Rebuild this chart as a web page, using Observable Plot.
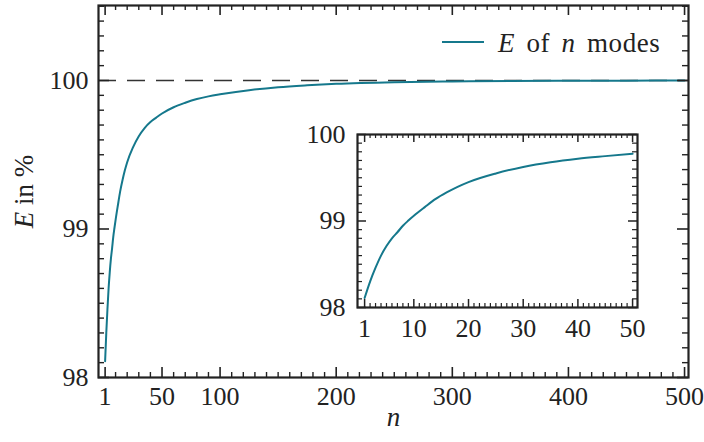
<!DOCTYPE html>
<html>
<head>
<meta charset="utf-8">
<script src="https://cdn.jsdelivr.net/npm/d3@7"></script>
<script src="https://cdn.jsdelivr.net/npm/@observablehq/plot@0.6"></script>
<style>
  body { margin: 0; background: #fff; }
  #wrap { position: relative; width: 704px; height: 442px; font-family: "Liberation Serif", serif; color: #222; }
  #wrap svg { position: absolute; }
  #legend { position: absolute; left: 442px; top: 28px; display: flex; align-items: center; font-size: 27px; line-height: 30px; white-space: nowrap; word-spacing: 4px; letter-spacing: 0.6px; }
  #legend .swatch { display: inline-block; width: 42px; height: 2px; margin-right: 14px; position: relative; top: -1px; }
</style>
</head>
<body>
<div id="wrap"></div>
<script>
// Retained energy E (in %) as a function of the number of modes n
const modes = [1, 2, 3, 4, 5, 6, 7, 8, 9, 10, 12, 14, 16, 18, 20, 25, 30, 35, 40, 45, 50,
  60, 70, 80, 90, 100, 125, 150, 175, 200, 250, 300, 350, 400, 450, 500];
const energy = [98.11, 98.30, 98.46, 98.60, 98.71, 98.80, 98.87, 98.945, 99.005, 99.06, 99.16,
  99.255, 99.33, 99.395, 99.45, 99.55, 99.625, 99.68, 99.72, 99.75, 99.778,
  99.82, 99.85, 99.875, 99.893, 99.907, 99.935, 99.955, 99.968, 99.978, 99.989, 99.994, 99.997, 99.998, 99.999, 100.0];

// Axis tick values
const mainXTicks = [1, 50, 100, 200, 300, 400, 500];
const mainYTicks = [98, 99, 100];
const insetXTicks = [1, 10, 20, 30, 40, 50];
const insetYTicks = [98, 99, 100];
const referenceLevel = [100];

const legendLabel = "E of n modes";
const yLabel = "E in %";
const xLabel = "n";

const teal = "#15788c";
const ink = "#222";

const data = modes.map((n, i) => ({n, E: energy[i]}));
const insetData = data.filter(d => d.n <= 50);

// inward tick helpers: ticks span the frame, insets shorten them to a given length
function xTicksIn(values, len, ph, sw) {
  return [
    Plot.tickX(values, {x: d => d, insetTop: ph - len, stroke: ink, strokeWidth: sw}),
    Plot.tickX(values, {x: d => d, insetBottom: ph - len, stroke: ink, strokeWidth: sw})
  ];
}
function yTicksIn(values, len, pw, sw) {
  return [
    Plot.tickY(values, {y: d => d, insetRight: pw - len, stroke: ink, strokeWidth: sw}),
    Plot.tickY(values, {y: d => d, insetLeft: pw - len, stroke: ink, strokeWidth: sw})
  ];
}

const font = {fontFamily: "Liberation Serif, serif", fontSize: "26px", color: ink, background: "transparent", overflow: "visible"};

// ---- main panel ----
const W = 704, H = 442, mL = 98, mT = 5, mR = 16, mB = 65;
const pw = W - mL - mR, ph = H - mT - mB;
const xMinor = d3.range(10, 500, 10).filter(v => !mainXTicks.includes(v));
const yMinor = d3.range(980, 1006).map(v => v / 10).filter(v => !mainYTicks.includes(v));

const main = Plot.plot({
  width: W, height: H,
  marginLeft: mL, marginTop: mT, marginRight: mR, marginBottom: mB,
  style: font,
  x: {domain: [-4.7, 503.4]},
  y: {domain: [98, 100.505]},
  marks: [
    Plot.ruleY(referenceLevel, {y: d => d, stroke: "#333", strokeWidth: 1.6, strokeDasharray: "18,11"}),
    Plot.line(data, {x: "n", y: "E", stroke: teal, strokeWidth: 2, curve: "monotone-x"}),
    ...xTicksIn(xMinor, 5, ph, 1.4),
    ...xTicksIn(mainXTicks, 10, ph, 1.6),
    ...yTicksIn(yMinor, 6, pw, 1.4),
    ...yTicksIn(mainYTicks, 11, pw, 1.6),
    Plot.axisX(mainXTicks, {tickSize: 0, tickPadding: 9, label: null, tickFormat: d => String(d)}),
    Plot.axisY(mainYTicks, {tickSize: 0, tickPadding: 10, label: null, tickFormat: d => String(d)}),
    Plot.frame({stroke: ink, strokeWidth: 2.2}),
    Plot.text([yLabel], {text: d => d, frameAnchor: "left", dx: -74, rotate: -90, textAnchor: "middle", fill: ink, fontSize: 27}),
    Plot.text([xLabel], {text: d => d, frameAnchor: "bottom", dy: 48, fontStyle: "italic", fill: ink, fontSize: 27})
  ]
});
main.style.left = "0px";
main.style.top = "0px";

// italic symbol in the y label
d3.select(main).selectAll("text").filter(function () { return this.textContent === yLabel; })
  .each(function () {
    const t = d3.select(this);
    t.text(null);
    t.append("tspan").attr("font-style", "italic").text("E");
    t.append("tspan").text(" in %");
  });

// ---- inset panel (first 50 modes) ----
const iL = 70, iT = 20, iR = 20, iB = 45, iw = 280, ih = 173;
const ixMinor = d3.range(2, 50).filter(v => !insetXTicks.includes(v));
const iyMinor = d3.range(981, 1000).map(v => v / 10).filter(v => !insetYTicks.includes(v));

const inset = Plot.plot({
  width: iL + iw + iR, height: iT + ih + iB,
  marginLeft: iL, marginTop: iT, marginRight: iR, marginBottom: iB,
  style: font,
  x: {domain: [-0.3, 50.9]},
  y: {domain: [98, 100]},
  marks: [
    Plot.line(insetData, {x: "n", y: "E", stroke: teal, strokeWidth: 2, curve: "monotone-x"}),
    ...xTicksIn(ixMinor, 4, ih, 1.2),
    ...xTicksIn(insetXTicks, 8, ih, 1.5),
    ...yTicksIn(iyMinor, 5, iw, 1.2),
    ...yTicksIn(insetYTicks, 9, iw, 1.5),
    Plot.axisX(insetXTicks, {tickSize: 0, tickPadding: 11, label: null, tickFormat: d => String(d)}),
    Plot.axisY(insetYTicks, {tickSize: 0, tickPadding: 12, label: null, tickFormat: d => String(d)}),
    Plot.frame({stroke: ink, strokeWidth: 2.2})
  ]
});
inset.style.left = (357 - iL) + "px";
inset.style.top = (134 - iT) + "px";

const wrap = document.getElementById("wrap");
wrap.appendChild(main);
wrap.appendChild(inset);

// legend
const legend = document.createElement("div");
legend.id = "legend";
const sw = document.createElement("span");
sw.className = "swatch";
sw.style.background = teal;
legend.appendChild(sw);
const lab = document.createElement("span");
const parts = legendLabel.split(" ");
const italics = new Set(["E", "n"]);
parts.forEach((p, i) => {
  const el = document.createElement(italics.has(p) ? "i" : "span");
  el.textContent = p + (i < parts.length - 1 ? " " : "");
  lab.appendChild(el);
});
legend.appendChild(lab);
wrap.appendChild(legend);
</script>
</body>
</html>
